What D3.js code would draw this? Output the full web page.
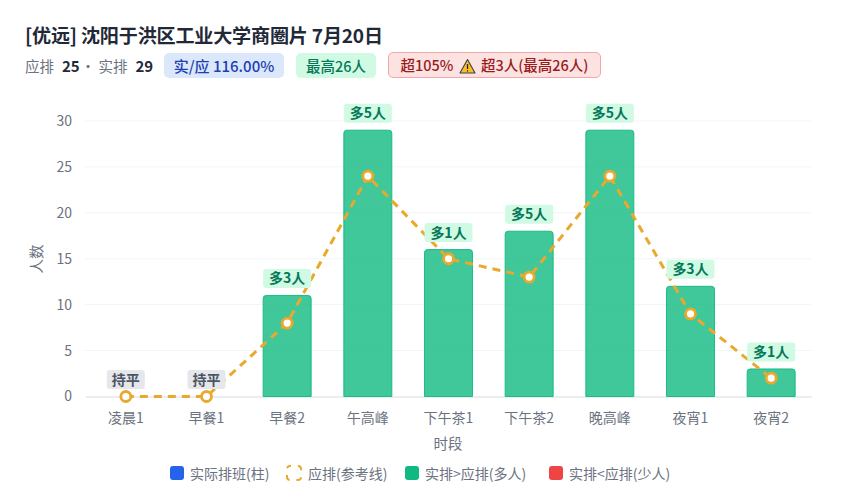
<!DOCTYPE html>
<html lang="zh-CN">
<head>
    <meta charset="UTF-8">
    <title>沈阳于洪区工业大学商圈片 7月20日</title>
    <script src="https://d3js.org/d3.v7.min.js"></script>
    <style>
        html, body { margin: 0; padding: 0; background: #fff; }
        body { width: 844px; height: 500px; position: relative; overflow: hidden;
               font-family: "Noto Sans CJK SC", "Noto Sans", sans-serif; }
        #title { position: absolute; left: 25px; top: 22px; font-size: 19.1px; font-weight: 700;
                 color: #1f2937; line-height: 26px; white-space: nowrap; letter-spacing: -0.2px; }
        #stats { position: absolute; left: 25px; top: 53px; height: 25px; display: flex;
                 align-items: center; font-size: 14.5px; color: #6b7280; white-space: nowrap; }
        #stats b { color: #1f2937; font-weight: 700; font-size: 15px; margin: 0 1px 0 8px; }
        .pill { position: absolute; top: 53px; height: 25px; line-height: 25px; border-radius: 5px;
                font-size: 14.5px; font-weight: 500; text-align: center; white-space: nowrap; box-sizing: border-box; }
        .blue { left: 164px; width: 120px; background: #dbe7fb; color: #1e40af; font-size: 15px; }
        .green { left: 296px; width: 80px; background: #d1fae5; color: #047857; }
        .red { left: 388px; width: 213px; background: #fde2e2; color: #991b1b;
               border: 1px solid #f2a8a8; line-height: 23px; top: 52px; height: 26px; }
        .red svg { vertical-align: -3px; margin: 0 2px; }
        svg#chart { position: absolute; left: 0; top: 0; }
    </style>
</head>
<body>
    <div id="title">[优远] 沈阳于洪区工业大学商圈片 7月20日</div>
    <div id="stats">应排<b>25</b>· 实排<b>29</b></div>
    <div class="pill blue">实/应 116.00%</div>
    <div class="pill green">最高26人</div>
    <div class="pill red">超105% <svg width="17" height="16" viewBox="0 0 17 16"><path d="M8.5 1.5 L16 15 L1 15 Z" fill="#fbbf24" stroke="#374151" stroke-width="1.1" stroke-linejoin="round"/><path d="M8.5 6 V11 M8.5 12.2 V13.6" stroke="#1f2937" stroke-width="1.3"/></svg> 超3人(最高26人)</div>
    <svg id="chart" width="844" height="500"></svg>

    <script>
        const categories = ["凌晨1", "早餐1", "早餐2", "午高峰", "下午茶1", "下午茶2", "晚高峰", "夜宵1", "夜宵2"];
        const actual = [0, 0, 11, 29, 16, 18, 29, 12, 3];
        const planned = [0, 0, 8, 24, 15, 13, 24, 9, 2];
        const diffLabels = ["持平", "持平", "多3人", "多5人", "多1人", "多5人", "多5人", "多3人", "多1人"];
        const yTicks = [0, 5, 10, 15, 20, 25, 30];
        const legendItems = ["实际排班(柱)", "应排(参考线)", "实排>应排(多人)", "实排<应排(少人)"];
        const legendColors = ["#2563eb", "#e8a92c", "#10b981", "#ef4444"];

        const svg = d3.select("#chart");
        const font = '"Noto Sans CJK SC", "Noto Sans", sans-serif';

        const x = d3.scaleBand().domain(categories).range([85.5, 811.5]);
        const y = d3.scaleLinear().domain([0, 30]).range([396.5, 121]);
        const cx = d => x(d) + x.bandwidth() / 2;
        const barW = 48;

        // grid
        svg.append("g").selectAll("line")
            .data(yTicks.slice(1))
            .enter().append("line")
            .attr("x1", 85).attr("x2", 811)
            .attr("y1", d => y(d)).attr("y2", d => y(d))
            .attr("stroke", "#f3f4f6");

        // y axis
        const yAxis = svg.append("g")
            .attr("transform", "translate(85,0)")
            .call(d3.axisLeft(y).tickValues(yTicks).tickSize(0).tickPadding(13));
        yAxis.select(".domain").remove();
        yAxis.selectAll("text").attr("font-family", font).attr("font-size", 14).attr("fill", "#6b7280");

        // x axis
        const xAxis = svg.append("g")
            .attr("transform", "translate(0,396.5)")
            .call(d3.axisBottom(x).tickSize(0).tickPadding(17));
        xAxis.select(".domain").attr("stroke", "#e5e7eb").attr("stroke-width", 1.5);
        xAxis.selectAll("text").attr("font-family", font).attr("font-size", 14).attr("fill", "#6b7280");

        // axis titles
        svg.append("text").text("时段")
            .attr("x", 448).attr("y", 449).attr("text-anchor", "middle")
            .attr("font-family", font).attr("font-size", 14.5).attr("fill", "#6b7280");
        svg.append("text").text("人数")
            .attr("transform", "translate(42,259) rotate(-90)").attr("text-anchor", "middle")
            .attr("font-family", font).attr("font-size", 14.5).attr("fill", "#6b7280");

        // bars
        svg.append("g").selectAll("path")
            .data(categories.filter((c, i) => actual[i] > 0))
            .enter().append("path")
            .attr("d", c => {
                const v = actual[categories.indexOf(c)];
                const l = cx(c) - barW / 2, t = y(v), r = 3;
                return `M${l},${y(0)}V${t + r}Q${l},${t} ${l + r},${t}H${l + barW - r}Q${l + barW},${t} ${l + barW},${t + r}V${y(0)}Z`;
            })
            .attr("fill", "#10b981").attr("fill-opacity", 0.8)
            .attr("stroke", "#10b981").attr("stroke-opacity", 0.9);

        // planned line
        const line = d3.line().x((d, i) => cx(categories[i])).y(d => y(d));
        svg.append("path").datum(planned)
            .attr("d", line).attr("fill", "none")
            .attr("stroke", "#e8a92c").attr("stroke-width", 3).attr("stroke-dasharray", "8 6");

        svg.append("g").selectAll("circle")
            .data(planned)
            .enter().append("circle")
            .attr("cx", (d, i) => cx(categories[i])).attr("cy", d => y(d)).attr("r", 5)
            .attr("fill", "#fff").attr("stroke", "#e8a92c").attr("stroke-width", 2.8);

        // diff labels above the bars
        const labels = svg.append("g").selectAll("g")
            .data(diffLabels)
            .enter().append("g")
            .attr("transform", (d, i) => `translate(${cx(categories[i])},${y(actual[i]) - 17})`);
        labels.append("rect")
            .attr("x", d => d === "持平" ? -19 : -24).attr("y", -9.5)
            .attr("width", d => d === "持平" ? 38 : 48).attr("height", 19).attr("rx", 3)
            .attr("fill", d => d === "持平" ? "#e5e7eb" : "#d1fae5");
        labels.append("text").text(d => d)
            .attr("text-anchor", "middle").attr("y", 5)
            .attr("font-family", font).attr("font-size", 14).attr("font-weight", 700)
            .attr("fill", d => d === "持平" ? "#4b5563" : "#047857");

        // legend
        const legendX = [170, 287, 405, 549];
        const legend = svg.append("g").selectAll("g")
            .data(legendItems)
            .enter().append("g")
            .attr("transform", (d, i) => `translate(${legendX[i]},466)`);
        legend.append("rect")
            .attr("width", 14).attr("height", 14).attr("rx", 3)
            .attr("fill", (d, i) => i === 1 ? "none" : legendColors[i])
            .attr("stroke", (d, i) => i === 1 ? legendColors[i] : "none")
            .attr("stroke-width", 2)
            .attr("stroke-dasharray", (d, i) => i === 1 ? "6 6.9" : null)
            .attr("stroke-dashoffset", (d, i) => i === 1 ? 5 : null);
        legend.append("text").text(d => d)
            .attr("x", (d, i) => i === 1 ? 21 : 20).attr("y", 12.5)
            .attr("font-family", font).attr("font-size", 14).attr("fill", "#6b7280");
    </script>
</body>
</html>
